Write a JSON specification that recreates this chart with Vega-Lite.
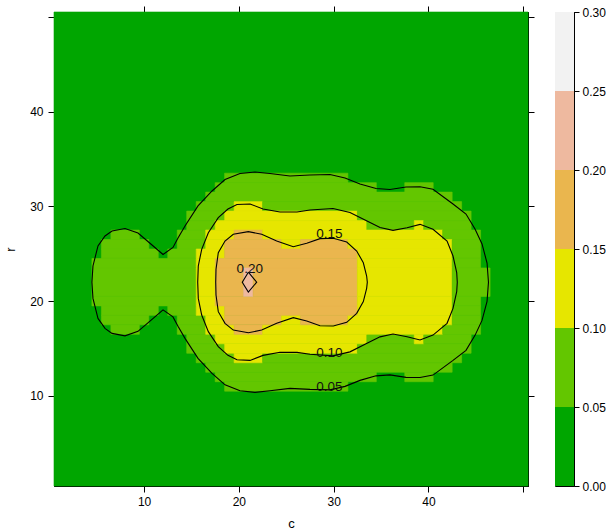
{
  "$schema": "https://vega.github.io/schema/vega-lite/v6.json",
  "background": "white",
  "padding": {"left": 4, "top": 5, "right": 0, "bottom": 0},
  "spacing": 19,
  "config": {
    "view": {"stroke": "black", "strokeWidth": 1},
    "font": "Liberation Sans",
    "axis": {
      "labelFont": "Liberation Sans", "titleFont": "Liberation Sans",
      "labelFontSize": 12, "titleFontSize": 13, "titleFontWeight": "normal",
      "labelColor": "black", "titleColor": "black", "tickColor": "black", "domainColor": "black",
      "tickSize": 6, "grid": false, "labelFlush": false, "labelOverlap": false
    }
  },
  "datasets": {
    "cells": [
      {"r0":0.5,"r1":50.5,"c0":0.5,"c1":50.5,"z":"a"},
      {"r0":32.5,"r1":33.5,"c0":18.5,"c1":31.5,"z":"b"},
      {"r0":10.5,"r1":11.5,"c0":18.5,"c1":31.5,"z":"b"},
      {"r0":31.5,"r1":32.5,"c0":17.5,"c1":34.5,"z":"b"},
      {"r0":31.5,"r1":32.5,"c0":37.5,"c1":40.5,"z":"b"},
      {"r0":11.5,"r1":12.5,"c0":17.5,"c1":34.5,"z":"b"},
      {"r0":11.5,"r1":12.5,"c0":37.5,"c1":40.5,"z":"b"},
      {"r0":30.5,"r1":31.5,"c0":16.5,"c1":42.5,"z":"b"},
      {"r0":12.5,"r1":13.5,"c0":16.5,"c1":42.5,"z":"b"},
      {"r0":29.5,"r1":30.5,"c0":15.5,"c1":19.5,"z":"b"},
      {"r0":29.5,"r1":30.5,"c0":19.5,"c1":22.5,"z":"c"},
      {"r0":29.5,"r1":30.5,"c0":22.5,"c1":43.5,"z":"b"},
      {"r0":13.5,"r1":14.5,"c0":15.5,"c1":19.5,"z":"b"},
      {"r0":13.5,"r1":14.5,"c0":19.5,"c1":22.5,"z":"c"},
      {"r0":13.5,"r1":14.5,"c0":22.5,"c1":43.5,"z":"b"},
      {"r0":28.5,"r1":29.5,"c0":14.5,"c1":18.5,"z":"b"},
      {"r0":28.5,"r1":29.5,"c0":18.5,"c1":32.5,"z":"c"},
      {"r0":28.5,"r1":29.5,"c0":32.5,"c1":44.5,"z":"b"},
      {"r0":14.5,"r1":15.5,"c0":14.5,"c1":18.5,"z":"b"},
      {"r0":14.5,"r1":15.5,"c0":18.5,"c1":32.5,"z":"c"},
      {"r0":14.5,"r1":15.5,"c0":32.5,"c1":44.5,"z":"b"},
      {"r0":27.5,"r1":28.5,"c0":14.5,"c1":17.5,"z":"b"},
      {"r0":27.5,"r1":28.5,"c0":17.5,"c1":33.5,"z":"c"},
      {"r0":27.5,"r1":28.5,"c0":33.5,"c1":38.5,"z":"b"},
      {"r0":27.5,"r1":28.5,"c0":38.5,"c1":39.5,"z":"c"},
      {"r0":27.5,"r1":28.5,"c0":39.5,"c1":44.5,"z":"b"},
      {"r0":15.5,"r1":16.5,"c0":14.5,"c1":17.5,"z":"b"},
      {"r0":15.5,"r1":16.5,"c0":17.5,"c1":33.5,"z":"c"},
      {"r0":15.5,"r1":16.5,"c0":33.5,"c1":38.5,"z":"b"},
      {"r0":15.5,"r1":16.5,"c0":38.5,"c1":39.5,"z":"c"},
      {"r0":15.5,"r1":16.5,"c0":39.5,"c1":44.5,"z":"b"},
      {"r0":26.5,"r1":27.5,"c0":6.5,"c1":9.5,"z":"b"},
      {"r0":26.5,"r1":27.5,"c0":13.5,"c1":16.5,"z":"b"},
      {"r0":26.5,"r1":27.5,"c0":16.5,"c1":19.5,"z":"c"},
      {"r0":26.5,"r1":27.5,"c0":19.5,"c1":22.5,"z":"d"},
      {"r0":26.5,"r1":27.5,"c0":22.5,"c1":41.5,"z":"c"},
      {"r0":26.5,"r1":27.5,"c0":41.5,"c1":45.5,"z":"b"},
      {"r0":16.5,"r1":17.5,"c0":6.5,"c1":9.5,"z":"b"},
      {"r0":16.5,"r1":17.5,"c0":13.5,"c1":16.5,"z":"b"},
      {"r0":16.5,"r1":17.5,"c0":16.5,"c1":19.5,"z":"c"},
      {"r0":16.5,"r1":17.5,"c0":19.5,"c1":22.5,"z":"d"},
      {"r0":16.5,"r1":17.5,"c0":22.5,"c1":41.5,"z":"c"},
      {"r0":16.5,"r1":17.5,"c0":41.5,"c1":45.5,"z":"b"},
      {"r0":25.5,"r1":26.5,"c0":5.5,"c1":10.5,"z":"b"},
      {"r0":25.5,"r1":26.5,"c0":13.5,"c1":16.5,"z":"b"},
      {"r0":25.5,"r1":26.5,"c0":16.5,"c1":18.5,"z":"c"},
      {"r0":25.5,"r1":26.5,"c0":18.5,"c1":24.5,"z":"d"},
      {"r0":25.5,"r1":26.5,"c0":24.5,"c1":26.5,"z":"c"},
      {"r0":25.5,"r1":26.5,"c0":26.5,"c1":31.5,"z":"d"},
      {"r0":25.5,"r1":26.5,"c0":31.5,"c1":42.5,"z":"c"},
      {"r0":25.5,"r1":26.5,"c0":42.5,"c1":45.5,"z":"b"},
      {"r0":17.5,"r1":18.5,"c0":5.5,"c1":10.5,"z":"b"},
      {"r0":17.5,"r1":18.5,"c0":13.5,"c1":16.5,"z":"b"},
      {"r0":17.5,"r1":18.5,"c0":16.5,"c1":18.5,"z":"c"},
      {"r0":17.5,"r1":18.5,"c0":18.5,"c1":24.5,"z":"d"},
      {"r0":17.5,"r1":18.5,"c0":24.5,"c1":26.5,"z":"c"},
      {"r0":17.5,"r1":18.5,"c0":26.5,"c1":31.5,"z":"d"},
      {"r0":17.5,"r1":18.5,"c0":31.5,"c1":42.5,"z":"c"},
      {"r0":17.5,"r1":18.5,"c0":42.5,"c1":45.5,"z":"b"},
      {"r0":24.5,"r1":25.5,"c0":5.5,"c1":11.5,"z":"b"},
      {"r0":24.5,"r1":25.5,"c0":12.5,"c1":15.5,"z":"b"},
      {"r0":24.5,"r1":25.5,"c0":15.5,"c1":18.5,"z":"c"},
      {"r0":24.5,"r1":25.5,"c0":18.5,"c1":32.5,"z":"d"},
      {"r0":24.5,"r1":25.5,"c0":32.5,"c1":42.5,"z":"c"},
      {"r0":24.5,"r1":25.5,"c0":42.5,"c1":45.5,"z":"b"},
      {"r0":18.5,"r1":19.5,"c0":5.5,"c1":11.5,"z":"b"},
      {"r0":18.5,"r1":19.5,"c0":12.5,"c1":15.5,"z":"b"},
      {"r0":18.5,"r1":19.5,"c0":15.5,"c1":18.5,"z":"c"},
      {"r0":18.5,"r1":19.5,"c0":18.5,"c1":32.5,"z":"d"},
      {"r0":18.5,"r1":19.5,"c0":32.5,"c1":42.5,"z":"c"},
      {"r0":18.5,"r1":19.5,"c0":42.5,"c1":45.5,"z":"b"},
      {"r0":23.5,"r1":24.5,"c0":4.5,"c1":15.5,"z":"b"},
      {"r0":23.5,"r1":24.5,"c0":15.5,"c1":17.5,"z":"c"},
      {"r0":23.5,"r1":24.5,"c0":17.5,"c1":32.5,"z":"d"},
      {"r0":23.5,"r1":24.5,"c0":32.5,"c1":42.5,"z":"c"},
      {"r0":23.5,"r1":24.5,"c0":42.5,"c1":45.5,"z":"b"},
      {"r0":19.5,"r1":20.5,"c0":4.5,"c1":15.5,"z":"b"},
      {"r0":19.5,"r1":20.5,"c0":15.5,"c1":17.5,"z":"c"},
      {"r0":19.5,"r1":20.5,"c0":17.5,"c1":32.5,"z":"d"},
      {"r0":19.5,"r1":20.5,"c0":32.5,"c1":42.5,"z":"c"},
      {"r0":19.5,"r1":20.5,"c0":42.5,"c1":45.5,"z":"b"},
      {"r0":20.5,"r1":23.5,"c0":4.5,"c1":15.5,"z":"b"},
      {"r0":20.5,"r1":23.5,"c0":15.5,"c1":17.5,"z":"c"},
      {"r0":20.5,"r1":23.5,"c0":17.5,"c1":20.5,"z":"d"},
      {"r0":20.5,"r1":23.5,"c0":20.5,"c1":21.5,"z":"e"},
      {"r0":20.5,"r1":23.5,"c0":21.5,"c1":32.5,"z":"d"},
      {"r0":20.5,"r1":23.5,"c0":32.5,"c1":42.5,"z":"c"},
      {"r0":20.5,"r1":23.5,"c0":42.5,"c1":46.5,"z":"b"}
    ],
    "contours": [
      {"lev":"0.05","c":4.5,"r":22},{"lev":"0.05","c":4.61,"r":23.71},{"lev":"0.05","c":5.14,"r":25.82},{"lev":"0.05","c":5.88,"r":26.87},
      {"lev":"0.05","c":6.62,"r":27.4},{"lev":"0.05","c":7.99,"r":27.66},{"lev":"0.05","c":9.36,"r":27.19},{"lev":"0.05","c":10.84,"r":25.92},
      {"lev":"0.05","c":12.0,"r":24.92},{"lev":"0.05","c":13.05,"r":25.66},{"lev":"0.05","c":13.58,"r":26.66},{"lev":"0.05","c":14.32,"r":27.93},
      {"lev":"0.05","c":15.69,"r":30.04},{"lev":"0.05","c":17.17,"r":31.62},{"lev":"0.05","c":18.54,"r":32.83},{"lev":"0.05","c":20.12,"r":33.46},
      {"lev":"0.05","c":21.7,"r":33.62},{"lev":"0.05","c":23.28,"r":33.46},{"lev":"0.05","c":25.39,"r":33.2},{"lev":"0.05","c":27.5,"r":33.31},
      {"lev":"0.05","c":29.61,"r":33.36},{"lev":"0.05","c":31.2,"r":32.99},{"lev":"0.05","c":32.78,"r":32.36},{"lev":"0.05","c":34.47,"r":31.88},
      {"lev":"0.05","c":35.94,"r":31.78},{"lev":"0.05","c":37.63,"r":32.04},{"lev":"0.05","c":39.11,"r":32.06},{"lev":"0.05","c":40.48,"r":31.8},
      {"lev":"0.05","c":42.59,"r":30.25},{"lev":"0.05","c":43.96,"r":29.19},{"lev":"0.05","c":44.91,"r":27.61},{"lev":"0.05","c":45.65,"r":26.03},
      {"lev":"0.05","c":46.18,"r":24.02},{"lev":"0.05","c":46.33,"r":22},
      {"lev":"0.05","c":46.18,"r":19.98},{"lev":"0.05","c":45.65,"r":17.97},{"lev":"0.05","c":44.91,"r":16.39},{"lev":"0.05","c":43.96,"r":14.81},
      {"lev":"0.05","c":42.59,"r":13.75},{"lev":"0.05","c":40.48,"r":12.2},{"lev":"0.05","c":39.11,"r":11.94},{"lev":"0.05","c":37.63,"r":11.96},
      {"lev":"0.05","c":35.94,"r":12.22},{"lev":"0.05","c":34.47,"r":12.12},{"lev":"0.05","c":32.78,"r":11.64},{"lev":"0.05","c":31.2,"r":11.01},
      {"lev":"0.05","c":29.61,"r":10.64},{"lev":"0.05","c":27.5,"r":10.69},{"lev":"0.05","c":25.39,"r":10.8},{"lev":"0.05","c":23.28,"r":10.54},
      {"lev":"0.05","c":21.7,"r":10.38},{"lev":"0.05","c":20.12,"r":10.54},{"lev":"0.05","c":18.54,"r":11.17},{"lev":"0.05","c":17.17,"r":12.38},
      {"lev":"0.05","c":15.69,"r":13.96},{"lev":"0.05","c":14.32,"r":16.07},{"lev":"0.05","c":13.58,"r":17.34},{"lev":"0.05","c":13.05,"r":18.34},
      {"lev":"0.05","c":12.0,"r":19.08},{"lev":"0.05","c":10.84,"r":18.08},{"lev":"0.05","c":9.36,"r":16.81},{"lev":"0.05","c":7.99,"r":16.34},
      {"lev":"0.05","c":6.62,"r":16.6},{"lev":"0.05","c":5.88,"r":17.13},{"lev":"0.05","c":5.14,"r":18.18},{"lev":"0.05","c":4.61,"r":20.29},
      {"lev":"0.05","c":4.5,"r":22},

      {"lev":"0.10","c":15.66,"r":22},{"lev":"0.10","c":15.72,"r":23.71},{"lev":"0.10","c":16.08,"r":25.47},{"lev":"0.10","c":16.78,"r":27.22},
      {"lev":"0.10","c":17.83,"r":28.8},{"lev":"0.10","c":18.85,"r":29.72},{"lev":"0.10","c":19.8,"r":30.19},{"lev":"0.10","c":21.18,"r":30.25},
      {"lev":"0.10","c":22.55,"r":29.72},{"lev":"0.10","c":24.34,"r":29.4},{"lev":"0.10","c":26.13,"r":29.4},{"lev":"0.10","c":27.5,"r":29.61},
      {"lev":"0.10","c":29.93,"r":29.77},{"lev":"0.10","c":31.72,"r":29.35},{"lev":"0.10","c":33.52,"r":28.45},{"lev":"0.10","c":34.89,"r":27.77},
      {"lev":"0.10","c":36.26,"r":27.47},{"lev":"0.10","c":37.74,"r":27.75},{"lev":"0.10","c":39.11,"r":28.1},{"lev":"0.10","c":40.48,"r":27.58},
      {"lev":"0.10","c":41.96,"r":26.34},{"lev":"0.10","c":42.59,"r":24.76},{"lev":"0.10","c":42.98,"r":23.0},{"lev":"0.10","c":43.04,"r":22},
      {"lev":"0.10","c":42.98,"r":21.0},{"lev":"0.10","c":42.59,"r":19.24},{"lev":"0.10","c":41.96,"r":17.66},{"lev":"0.10","c":40.48,"r":16.42},
      {"lev":"0.10","c":39.11,"r":15.9},{"lev":"0.10","c":37.74,"r":16.25},{"lev":"0.10","c":36.26,"r":16.53},{"lev":"0.10","c":34.89,"r":16.23},
      {"lev":"0.10","c":33.52,"r":15.55},{"lev":"0.10","c":31.72,"r":14.65},{"lev":"0.10","c":29.93,"r":14.23},{"lev":"0.10","c":27.5,"r":14.39},
      {"lev":"0.10","c":26.13,"r":14.6},{"lev":"0.10","c":24.34,"r":14.6},{"lev":"0.10","c":22.55,"r":14.28},{"lev":"0.10","c":21.18,"r":13.75},
      {"lev":"0.10","c":19.8,"r":13.81},{"lev":"0.10","c":18.85,"r":14.28},{"lev":"0.10","c":17.83,"r":15.2},{"lev":"0.10","c":16.78,"r":16.78},
      {"lev":"0.10","c":16.08,"r":18.53},{"lev":"0.10","c":15.72,"r":20.29},{"lev":"0.10","c":15.66,"r":22},

      {"lev":"0.15","c":17.56,"r":22},{"lev":"0.15","c":17.59,"r":23.36},{"lev":"0.15","c":17.83,"r":25.11},{"lev":"0.15","c":18.54,"r":26.34},
      {"lev":"0.15","c":19.41,"r":27.05},{"lev":"0.15","c":21.0,"r":27.33},{"lev":"0.15","c":22.41,"r":27.05},{"lev":"0.15","c":23.99,"r":26.34},
      {"lev":"0.15","c":25.74,"r":25.74},{"lev":"0.15","c":27.16,"r":26.1},{"lev":"0.15","c":28.56,"r":26.59},{"lev":"0.15","c":29.96,"r":26.63},
      {"lev":"0.15","c":31.38,"r":26.24},{"lev":"0.15","c":32.43,"r":25.29},{"lev":"0.15","c":33.13,"r":24.05},{"lev":"0.15","c":33.48,"r":22.65},
      {"lev":"0.15","c":33.55,"r":22},
      {"lev":"0.15","c":33.48,"r":21.35},{"lev":"0.15","c":33.13,"r":19.95},{"lev":"0.15","c":32.43,"r":18.71},{"lev":"0.15","c":31.38,"r":17.76},
      {"lev":"0.15","c":29.96,"r":17.37},{"lev":"0.15","c":28.56,"r":17.41},{"lev":"0.15","c":27.16,"r":17.9},{"lev":"0.15","c":25.74,"r":18.26},
      {"lev":"0.15","c":23.99,"r":17.66},{"lev":"0.15","c":22.41,"r":16.95},{"lev":"0.15","c":21.0,"r":16.67},{"lev":"0.15","c":19.41,"r":16.95},
      {"lev":"0.15","c":18.54,"r":17.66},{"lev":"0.15","c":17.83,"r":18.89},{"lev":"0.15","c":17.59,"r":20.64},{"lev":"0.15","c":17.56,"r":22},

      {"lev":"0.20","c":21.0,"r":23.05},{"lev":"0.20","c":21.88,"r":22.0},{"lev":"0.20","c":21.0,"r":20.95},{"lev":"0.20","c":20.36,"r":22.0},
      {"lev":"0.20","c":21.0,"r":23.05}
    ],
    "labels": [
      {"t":"0.20","c":21.15,"r":23.4},
      {"t":"0.15","c":29.54,"r":27.13},
      {"t":"0.10","c":29.54,"r":14.53},
      {"t":"0.05","c":29.54,"r":10.91}
    ],
    "key": [
      {"lo":0.0,"hi":0.05,"z":"a"},
      {"lo":0.05,"hi":0.1,"z":"b"},
      {"lo":0.1,"hi":0.15,"z":"c"},
      {"lo":0.15,"hi":0.2,"z":"d"},
      {"lo":0.2,"hi":0.25,"z":"e"},
      {"lo":0.25,"hi":0.3,"z":"f"}
    ]
  },
  "hconcat": [
    {
      "width": 474,
      "height": 474,
      "resolve": {"axis": {"x": "independent", "y": "independent"}},
      "layer": [
        {
          "data": {"name": "cells"},
          "mark": {"type": "rect", "strokeWidth": 0.6},
          "encoding": {
            "x": {"field": "c0", "type": "quantitative",
                  "scale": {"domain": [0.5, 50.5], "nice": false, "zero": false},
                  "axis": {"orient": "bottom", "values": [10, 20, 30, 40, 50],
                           "labelExpr": "datum.value == 50 ? '' : datum.label",
                           "title": "c", "labelPadding": 4, "titlePadding": 10}},
            "x2": {"field": "c1"},
            "y": {"field": "r0", "type": "quantitative",
                  "scale": {"domain": [0.5, 50.5], "nice": false, "zero": false},
                  "axis": {"orient": "left", "values": [10, 20, 30, 40, 50],
                           "labelExpr": "datum.value == 50 ? '' : datum.label",
                           "title": "r", "labelPadding": 5, "titlePadding": 12}},
            "y2": {"field": "r1"},
            "color": {"field": "z", "type": "nominal",
                      "scale": {"domain": ["a", "b", "c", "d", "e", "f"],
                                "range": ["#00A600", "#63C600", "#E6E600", "#EAB64E", "#EEB99F", "#F2F2F2"]},
                      "legend": null},
            "stroke": {"field": "z", "type": "nominal",
                       "scale": {"domain": ["a", "b", "c", "d", "e", "f"],
                                 "range": ["#00A600", "#63C600", "#E6E600", "#EAB64E", "#EEB99F", "#F2F2F2"]},
                       "legend": null}
          }
        },
        {
          "data": {"name": "contours"},
          "mark": {"type": "line", "color": "black", "strokeWidth": 1.1, "interpolate": "linear"},
          "encoding": {
            "x": {"field": "c", "type": "quantitative",
                  "scale": {"domain": [0.5, 50.5], "nice": false, "zero": false},
                  "axis": {"orient": "top", "values": [10, 20, 30, 40, 50], "labels": false, "title": null}},
            "y": {"field": "r", "type": "quantitative",
                  "scale": {"domain": [0.5, 50.5], "nice": false, "zero": false},
                  "axis": {"orient": "right", "values": [10, 20, 30, 40, 50], "labels": false, "title": null}},
            "detail": {"field": "lev", "type": "nominal"},
            "order": {"value": null}
          }
        },
        {
          "data": {"name": "labels"},
          "mark": {"type": "text", "font": "Liberation Sans", "fontSize": 13.5, "baseline": "middle", "align": "center", "color": "#111111"},
          "encoding": {
            "x": {"field": "c", "type": "quantitative", "axis": null},
            "y": {"field": "r", "type": "quantitative", "axis": null},
            "text": {"field": "t", "type": "nominal"}
          }
        }
      ]
    },
    {
      "width": 19,
      "height": 474,
      "data": {"name": "key"},
      "mark": {"type": "rect"},
      "encoding": {
        "y": {"field": "lo", "type": "quantitative",
              "scale": {"domain": [0, 0.3], "nice": false, "zero": false},
              "axis": {"orient": "right", "values": [0, 0.05, 0.1, 0.15, 0.2, 0.25, 0.3],
                       "format": ".2f", "title": null, "tickSize": 5, "labelPadding": 3}},
        "y2": {"field": "hi"},
        "color": {"field": "z", "type": "nominal",
                  "scale": {"domain": ["a", "b", "c", "d", "e", "f"],
                            "range": ["#00A600", "#63C600", "#E6E600", "#EAB64E", "#EEB99F", "#F2F2F2"]},
                  "legend": null}
      }
    }
  ]
}
